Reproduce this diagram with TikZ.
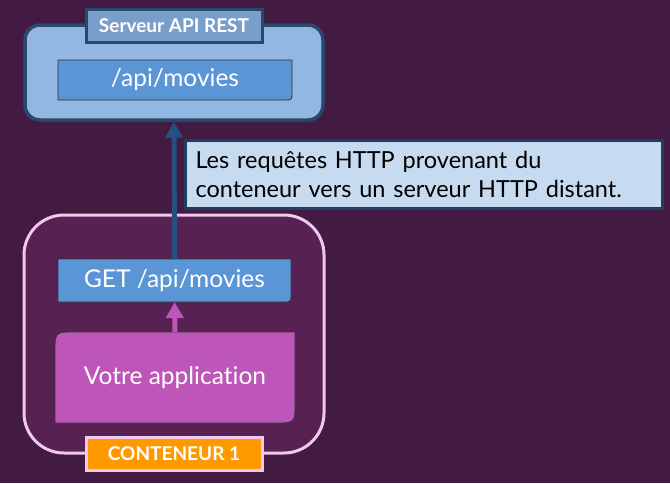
\documentclass[tikz,border=0pt]{standalone}
\usepackage{fontspec}
\setmainfont{Lato}[Ligatures={NoCommon,NoRare}]
\usepackage{xcolor}
\usetikzlibrary{arrows.meta,positioning}
\definecolor{bgpurple}{RGB}{66,26,66}
\definecolor{boxpurple}{RGB}{87,33,83}
\definecolor{boxpink}{RGB}{240,200,234}
\definecolor{servblue}{RGB}{147,183,227}
\definecolor{servline}{RGB}{42,72,105}
\definecolor{titleblue}{RGB}{122,158,203}
\definecolor{routeblue}{RGB}{90,149,213}
\definecolor{arrowblue}{RGB}{38,80,130}
\definecolor{appmagenta}{RGB}{190,85,184}
\definecolor{noteblue}{RGB}{199,219,240}
\definecolor{noteline}{RGB}{30,63,96}
\definecolor{tagorange}{RGB}{255,153,0}

\begin{document}
\begin{tikzpicture}[x=1pt, y=-1pt,
    every node/.style={font=\fontsize{24.5}{29}\selectfont},
    tag/.style={draw, line width=3pt, minimum width=176pt, minimum height=33pt, inner sep=0pt, text=white, font=\fontsize{19}{22}\selectfont\bfseries},
    inner/.style={minimum width=#1, inner sep=0pt, outer sep=0pt, text=white}]
    % Background
    \fill[bgpurple] (0,0) rectangle (670,483);
    \useasboundingbox (0,0) rectangle (670,483);

    % Top: REST server
    \node[draw=servline, line width=3.5pt, fill=servblue, rounded corners=15pt, minimum width=298pt, minimum height=95pt] (server) at (174,72.5) {};
    \node[tag, draw=servline, fill=titleblue] (servertitle) at (174,25.5) {Serveur API REST};
    \node[inner=234pt, minimum height=40pt] (route) at (175,80) {};
    \fill[routeblue] (route.north west) -- (route.north east) -- ([yshift=8pt]route.south east) .. controls (route.south east) .. ([xshift=-8pt]route.south east) -- (route.south west) -- cycle;
    \draw[black!80, line width=0.8pt] (route.north west) -- (route.north east) -- ([yshift=8pt]route.south east) .. controls (route.south east) .. ([xshift=-8pt]route.south east) -- (route.south west) -- cycle;
    \node[text=white] at (route) {/api/movies};

    % Bottom: container
    \node[draw=boxpink, line width=3pt, fill=boxpurple, rounded corners=40pt, minimum width=300pt, minimum height=238pt] (container) at (174,334) {};
    \node[tag, draw=boxpink, fill=tagorange] (containertag) at (174,453.5) {CONTENEUR 1};

    % GET request
    \node[inner=233pt, minimum height=43pt] (getreq) at (174.5,280.5) {};
    \fill[routeblue] (getreq.north west) -- (getreq.north east) -- ([yshift=8pt]getreq.south east) .. controls (getreq.south east) .. ([xshift=-8pt]getreq.south east) -- (getreq.south west) -- cycle;
    \draw[black!80, line width=0.8pt] (getreq.north west) -- (getreq.north east) -- ([yshift=8pt]getreq.south east) .. controls (getreq.south east) .. ([xshift=-8pt]getreq.south east) -- (getreq.south west) -- cycle;
    \node[text=white] at (getreq) {GET /api/movies};

    % Application
    \node[inner=240pt, minimum height=91pt] (app) at (175,377.5) {};
    \fill[appmagenta] ([xshift=20pt]app.north west) -- (app.north east) -- ([yshift=20pt]app.south east) .. controls (app.south east) .. ([xshift=-20pt]app.south east) -- (app.south west) -- ([yshift=-20pt]app.north west) .. controls (app.north west) .. ([xshift=20pt]app.north west) -- cycle;
    \draw[black!80, line width=0.8pt] ([xshift=20pt]app.north west) -- (app.north east) -- ([yshift=20pt]app.south east) .. controls (app.south east) .. ([xshift=-20pt]app.south east) -- (app.south west) -- ([yshift=-20pt]app.north west) .. controls (app.north west) .. ([xshift=20pt]app.north west) -- cycle;
    \node[text=white] at (app) {Votre application};

    % Arrows
    \draw[-{Triangle[length=16pt,width=17pt]}, line width=5pt, appmagenta] (app.north) -- (getreq.south);
    \draw[-{Triangle[length=16pt,width=17pt]}, line width=5pt, arrowblue] (getreq.north) -- (server.south);

    % Note
    \node[draw=noteline, line width=3pt, fill=noteblue, minimum width=477pt, minimum height=68pt, text width=456pt, align=left, inner sep=0pt, font=\fontsize{23.5}{29}\selectfont] (note) at (423.5,174) {Les requêtes HTTP provenant du\\conteneur vers un serveur HTTP distant.};
\end{tikzpicture}
\end{document}
